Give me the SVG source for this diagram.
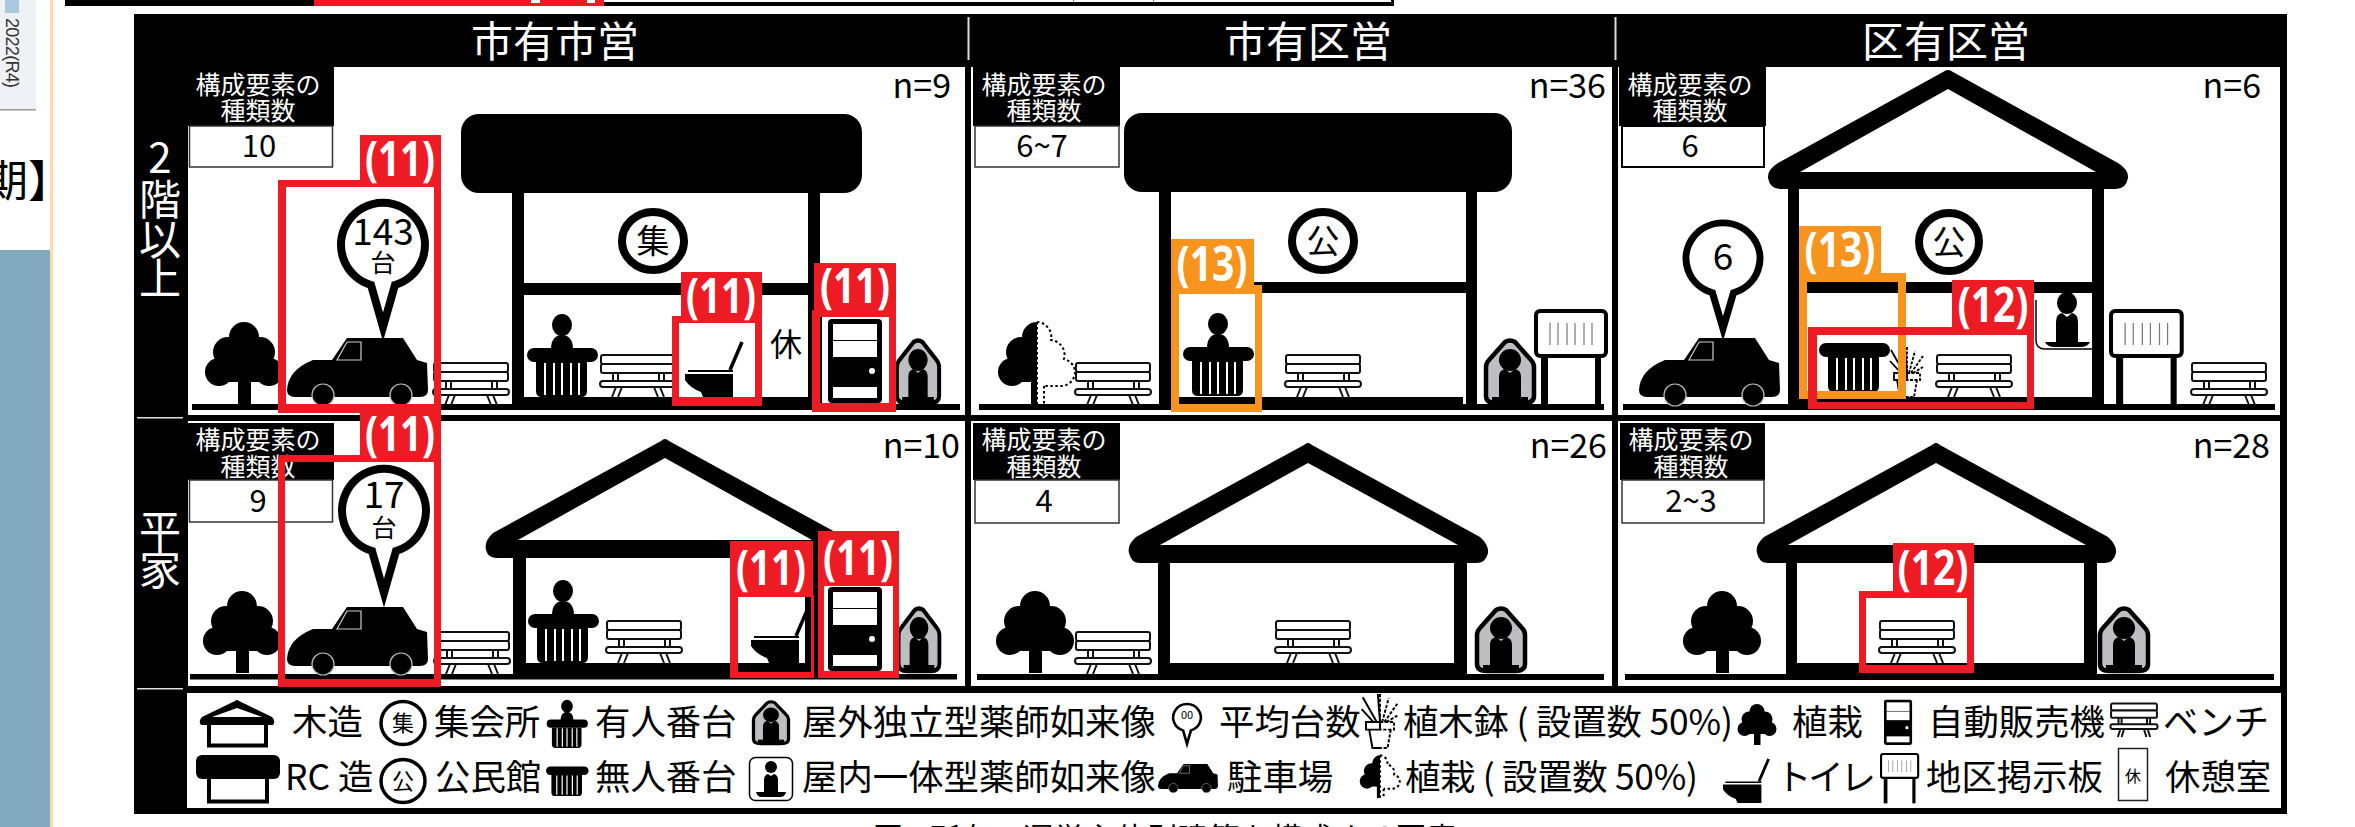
<svg xmlns="http://www.w3.org/2000/svg" width="2355" height="827" viewBox="0 0 2355 827">
<style>
text{font-family:"Noto Sans CJK JP","Noto Sans",sans-serif;fill:#000}
.w{fill:#fff}
.m{text-anchor:middle}
.e{text-anchor:end}
.t{font-size:42px;fill:#fff;text-anchor:middle}
.h{font-size:25px;fill:#fff;text-anchor:middle}
.v{font-size:31px;text-anchor:middle}
.n{font-size:34px;text-anchor:end}
.l{font-size:35.4px}
.b{font-size:37px;text-anchor:middle}
.tag{font-family:"Open Sans","Noto Sans",sans-serif;font-weight:700;font-size:48px;fill:#fff;text-anchor:middle}
.k{fill:#000}
.red{fill:#ed1c24;fill-rule:evenodd}
.or{fill:#f7941d;fill-rule:evenodd}
.box{fill:#fff;stroke:#333;stroke-width:1.5}
.ns{vector-effect:non-scaling-stroke}
</style>
<defs>
<g id="tree" class="k"><circle cx="0" cy="-67" r="15"/><circle cx="-16" cy="-52" r="15"/><circle cx="16" cy="-52" r="15"/><circle cx="-25" cy="-32" r="14"/><circle cx="25" cy="-32" r="14"/><rect x="-18" y="-60" width="36" height="38"/><rect x="-6" y="-30" width="13" height="30"/></g>
<clipPath id="lh"><rect x="-40" y="-90" width="40" height="90"/></clipPath>
<g id="halftree"><use href="#tree" clip-path="url(#lh)"/><path class="ns" d="M0,-82V0M7,-18V0M0,-82A15,15 0 0 1 14,-64A15,15 0 0 1 27,-45A14,14 0 0 1 38,-32A14,14 0 0 1 24,-18L7,-18" fill="none" stroke="#000" stroke-width="2" stroke-dasharray="2.5 2.5"/></g>
<g id="bench" fill="#fff" stroke="#111" stroke-width="2"><path class="ns" d="M-25,-24V-15M-20,-24V-15M21,-24V-15M26,-24V-15M-22,-10L-26,0M-16,-10L-20,0M16,-10L20,0M22,-10L26,0" fill="none"/><rect class="ns" x="-37" y="-42" width="74" height="9" rx="2"/><rect class="ns" x="-37" y="-33" width="74" height="9" rx="2"/><rect class="ns" x="-38" y="-16" width="76" height="6" rx="3"/></g>
<g id="car"><path class="k" d="M0,-7Q1,-27 26,-37L45,-37L60,-59L116,-59L130,-37L140,-34L141,-7Q141,0 133,0L8,0Q0,0 0,-7Z"/><path d="M50,-37L60,-55L74,-55L74,-37Z" fill="none" stroke="#ccc" stroke-width="1.2"/><circle cx="36" cy="-2" r="11" class="k" stroke="#bbb" stroke-width="1.2"/><circle cx="114" cy="-2" r="11" class="k" stroke="#bbb" stroke-width="1.2"/></g>
<path id="pin" d="M-12,-52A42,42 0 1 1 12,-52L0,-10Z" fill="#fff" stroke="#000" stroke-width="8" stroke-miterlimit="12"/>
<g id="counter"><rect class="k" x="-35" y="-49" width="71" height="14" rx="7"/><path class="k" d="M-26,-35H25V-6Q25,0 19,0H-20Q-26,0 -26,-6Z"/><path d="M-17,-34V-2M-8,-34V-2M0,-34V-2M9,-34V-2M17,-34V-2" stroke="#fff" stroke-width="2"/></g>
<g id="staffed"><use href="#counter"/><ellipse class="k" cx="0" cy="-72" rx="10" ry="11"/><path class="k" d="M-11,-48C-11,-58 -6,-62 0,-62C6,-62 11,-58 11,-48Z"/></g>
<g id="toilet"><path d="M57,-55L45,-27" stroke="#000" stroke-width="3.5" fill="none"/><path class="k" d="M3,-27H48V-25H3Z"/><path class="k" d="M0,-23H48V0H18L16,-5Q5,-9 0,-17Z"/></g>
<g id="door"><rect class="k" width="54" height="84" y="-84" rx="4"/><rect class="w" x="5" y="-79" width="44" height="33"/><rect class="k" x="5" y="-63" width="44" height="1"/><rect class="w" x="5" y="-16" width="44" height="11"/><circle class="w" cx="44" cy="-32" r="3"/></g>
<g id="statue"><path d="M-5,-63Q0,-66 5,-63L21,-45Q24,-42 24,-38L24,-9Q24,-2 14,-2L-14,-2Q-24,-2 -24,-9L-24,-38Q-24,-42 -21,-45Z" fill="#bcbec0" stroke="#000" stroke-width="4.5"/><circle class="k" cx="0" cy="-45" r="11"/><path class="k" d="M-11,-3V-28Q-11,-35 -5,-36L0,-32L5,-36Q11,-35 11,-28V-3Z"/><rect class="k" x="-18" y="-8" width="36" height="7"/></g>
<g id="sign"><rect x="7" y="47" width="7" height="48" class="k"/><rect x="61" y="47" width="6" height="48" class="k"/><rect x="2" y="2" width="70" height="45" rx="4" fill="#fff" stroke="#000" stroke-width="4"/><path d="M16,14V36M24,14V36M33,14V36M41,14V36M50,14V36M58,14V36" stroke="#777" stroke-width="1.2"/></g>
<g id="plant" fill="none" stroke="#000" stroke-width="1.8"><path d="M0,-24L-2,-50M-3,-24L-16,-47M-6,-24L-17,-36M-13,-24H0V-17H-13ZM-10,-17L-7,0H0"/><path stroke-dasharray="3 1.5" d="M0,-50V-24M2,-24L8,-46M4,-24L16,-41M6,-24L16,-30M0,-24H13V-17H0M10,-17L7,0H0"/></g>
</defs>

<g id="page-fragments">
<rect x="0" y="0" width="36" height="110" fill="#eef2f7"/>
<rect x="0" y="109" width="36" height="1.5" fill="#999"/>
<rect x="5" y="0" width="14" height="13" fill="#a9c8dc"/>
<text transform="translate(6,18) rotate(90)" textLength="70" style="font-family:'Liberation Sans',sans-serif;font-size:18px;fill:#333">2022(R4)</text>
<text x="-16" y="197" style="font-size:44px">期】</text>
<rect x="0" y="250" width="50" height="577" fill="#83a9c0"/>
<rect x="50" y="0" width="3" height="827" fill="#fcd9a8"/>
<rect x="65" y="0" width="249" height="6" class="k"/>
<rect x="314" y="0" width="290" height="6" fill="#ed1c24"/>
<rect x="531" y="0" width="9" height="3" class="w"/>
<rect x="587" y="0" width="8" height="3" class="w"/>
<rect x="604" y="2" width="790" height="4" class="k"/>
<rect x="1391" y="0" width="3" height="6" class="k"/>
<rect x="1073" y="0" width="1" height="2" fill="#777"/>
<rect x="1153" y="0" width="1" height="2" fill="#777"/>
<text x="873" y="849" textLength="584" style="font-size:30px">図9 所有・運営主体別建築を構成する要素</text>
</g>

<g id="frame">
<rect x="134" y="14" width="2153" height="800" class="k"/>
<rect x="188" y="67" width="777" height="348" class="w"/>
<rect x="971" y="67" width="641" height="348" class="w"/>
<rect x="1618" y="67" width="662" height="348" class="w"/>
<rect x="188" y="421" width="777" height="265" class="w"/>
<rect x="971" y="421" width="641" height="265" class="w"/>
<rect x="1618" y="421" width="662" height="265" class="w"/>
<rect x="187" y="693" width="2094" height="115" class="w"/>
<rect x="967.500" y="17" width="2" height="43" fill="#ddd"/>
<rect x="1614.500" y="17" width="2" height="43" fill="#ddd"/>
<rect x="137" y="417" width="46" height="1.500" fill="#ddd"/>
<rect x="137" y="688" width="46" height="1.500" fill="#ddd"/>
<text class="t" x="555" y="57">市有市営</text>
<text class="t" x="1308" y="57">市有区営</text>
<text class="t" x="1946" y="57">区有区営</text>
<g class="t">
<text class="t" x="160" y="173">2</text>
<text class="t" x="160" y="215">階</text>
<text class="t" x="160" y="255">以</text>
<text class="t" x="160" y="294">上</text>
<text class="t" x="160" y="546">平</text>
<text class="t" x="160" y="585">家</text>
</g>
</g>

<g id="panel-shiyu-shiei-2f">
<rect x="192" y="404" width="768" height="6" class="k"/>
<use href="#tree" x="244" y="404"/>
<use href="#bench" x="471" y="405"/>
<rect x="461" y="114" width="401" height="79" rx="18" class="k"/>
<rect x="512" y="193" width="12" height="217" class="k"/>
<rect x="808" y="193" width="12" height="217" class="k"/>
<rect x="524" y="283" width="284" height="12" class="k"/>
<rect x="512" y="397" width="308" height="13" class="k"/>
<ellipse cx="653" cy="241" rx="31" ry="29" fill="#fff" stroke="#000" stroke-width="8"/>
<text x="653" y="253" class="m" style="font-size:33px">集</text>
<use href="#staffed" x="562" y="397"/>
<use href="#bench" x="638" y="397"/>
<text x="786" y="356" class="m" style="font-size:32px">休</text>
<use href="#statue" transform="translate(918,405) scale(.88,1)"/>
<use href="#car" x="287" y="397"/>
<use href="#pin" x="383" y="337"/>
<text x="383" y="245" class="b">143</text>
<text x="383" y="272" class="m" style="font-size:25px">台</text>
<use href="#toilet" x="685" y="397"/>
<use href="#door" x="828" y="403"/>
<rect x="820" y="317" width="2" height="86" class="k"/>
<path class="red" d="M278,180H441V413H278ZM286,187V404H434V187Z"/><rect class="red" x="360" y="135" width="81" height="46"/>
<text class="tag" x="400" y="176" textLength="70" lengthAdjust="spacingAndGlyphs">(11)</text>
<path class="red" d="M672,316H762V406H672ZM679,323V397H755V323Z"/><rect class="red" x="681" y="272" width="81" height="45"/>
<text class="tag" x="721" y="313" textLength="70" lengthAdjust="spacingAndGlyphs">(11)</text>
<path class="red" d="M812,310H896V412H812ZM820,317V403H889V317Z"/><rect class="red" x="814" y="263" width="82" height="48"/>
<text class="tag" x="855" y="303" textLength="70" lengthAdjust="spacingAndGlyphs">(11)</text>
<rect x="188" y="67" width="146" height="59" class="k"/>
<rect x="189.500" y="126" width="143" height="41" class="box"/>
<text class="h" x="258" y="94">構成要素の</text>
<text class="h" x="258" y="120">種類数</text>
<text class="v" x="259" y="157">10</text>
<text class="n" x="951" y="98">n=9</text>
</g>

<g id="panel-shiyu-kuei-2f">
<rect x="979" y="404" width="625" height="6" class="k"/>
<use href="#halftree" x="1037" y="404"/>
<use href="#bench" x="1113" y="405"/>
<rect x="1124" y="113" width="388" height="79" rx="18" class="k"/>
<rect x="1159" y="192" width="12" height="218" class="k"/>
<rect x="1466" y="192" width="11" height="218" class="k"/>
<rect x="1171" y="282" width="295" height="11" class="k"/>
<rect x="1159" y="397" width="304" height="13" class="k"/>
<ellipse cx="1323" cy="241" rx="31" ry="29" fill="#fff" stroke="#000" stroke-width="8"/>
<text x="1323" y="253" class="m" style="font-size:33px">公</text>
<use href="#staffed" x="1218" y="396"/>
<use href="#bench" x="1323" y="397"/>
<use href="#statue" x="1510" y="405"/>
<use href="#sign" x="1534" y="309"/>
<path class="or" d="M1171,285H1262V412H1171ZM1179,294V404H1255V294Z"/><rect class="or" x="1171" y="239" width="83" height="47"/>
<text class="tag" x="1212" y="281" textLength="71" lengthAdjust="spacingAndGlyphs">(13)</text>
<rect x="973" y="67" width="147" height="59" class="k"/>
<rect x="975" y="126" width="144" height="41" class="box"/>
<text class="h" x="1044" y="94">構成要素の</text>
<text class="h" x="1044" y="120">種類数</text>
<text class="v" x="1042" y="157">6~7</text>
<text class="n" x="1606" y="98">n=36</text>
</g>

<g id="panel-kuyu-kuei-2f">
<rect x="1623" y="404" width="652" height="6" class="k"/>
<path class="k" fill-rule="evenodd" d="M1943,72Q1948,68 1953,72L2118,163Q2129,170 2128,178Q2126,189 2116,189L1780,189Q1770,189 1768,178Q1767,170 1778,163ZM1948,89L1800,172H2096Z"/>
<rect x="1788" y="189" width="11" height="221" class="k"/>
<rect x="2092" y="189" width="12" height="221" class="k"/>
<rect x="1799" y="282" width="293" height="11" class="k"/>
<rect x="1788" y="397" width="316" height="13" class="k"/>
<ellipse cx="1949" cy="242" rx="30" ry="29" fill="#fff" stroke="#000" stroke-width="8"/>
<text x="1949" y="254" class="m" style="font-size:33px">公</text>
<path d="M2036,300V340Q2036,349 2045,349H2092" fill="none" stroke="#000" stroke-width="1.500"/>
<ellipse class="k" cx="2067" cy="303" rx="10" ry="11"/>
<path class="k" d="M2056,342V322Q2056,314 2062,313L2067,317L2072,313Q2078,314 2078,322V342Z"/>
<path class="k" d="M2045,342H2090Q2088,347 2080,347H2055Q2047,347 2045,342Z"/>
<use href="#plant" x="1907" y="397"/>
<use href="#counter" x="1854" y="392"/>
<use href="#bench" x="1974" y="397"/>
<use href="#bench" x="2229" y="405"/>
<use href="#sign" transform="translate(2109,309) scale(1.01,1)"/>
<use href="#car" x="1639" y="397"/>
<use href="#pin" transform="translate(1723,337) scale(.88,.85)"/>
<text x="1723" y="270" class="b">6</text>
<path class="or" d="M1799,273H1906V399H1799ZM1807,282V391H1898V282Z"/><rect class="or" x="1799" y="226" width="82" height="48"/>
<text class="tag" x="1840" y="267" textLength="71" lengthAdjust="spacingAndGlyphs">(13)</text>
<path class="red" d="M1808,327H2034V409H1808ZM1817,335V402H2027V335Z"/><rect class="red" x="1952" y="280" width="82" height="48"/>
<text class="tag" x="1993" y="322" textLength="71" lengthAdjust="spacingAndGlyphs">(12)</text>
<rect x="1619" y="67" width="147" height="59" class="k"/>
<rect x="1622" y="126" width="142" height="41" class="box" style="stroke:#000;stroke-width:2"/>
<text class="h" x="1690" y="94">構成要素の</text>
<text class="h" x="1690" y="120">種類数</text>
<text class="v" x="1690" y="157">6</text>
<text class="n" x="2261" y="98">n=6</text>
</g>

<g id="panel-shiyu-shiei-1f">
<rect x="190" y="674" width="767" height="5.500" class="k"/>
<use href="#tree" x="242" y="673"/>
<use href="#bench" x="472" y="674"/>
<path class="k" fill-rule="evenodd" d="M661,441Q665,437 669,441L837,533Q846,541 844,550Q842,558 833,558L497,558Q488,558 486,550Q484,541 493,533ZM665,458L518,540H812Z"/>
<rect x="513" y="558" width="13" height="121" class="k"/>
<rect x="805" y="558" width="13" height="121" class="k"/>
<rect x="513" y="663" width="305" height="16" class="k"/>
<use href="#staffed" x="563" y="663"/>
<use href="#bench" x="644" y="663"/>
<use href="#statue" transform="translate(919,673) scale(.85,1)"/>
<use href="#car" x="287" y="666"/>
<use href="#pin" x="384" y="603"/>
<rect x="188" y="423" width="146" height="57" class="k"/>
<rect x="189.500" y="480" width="143" height="42" class="box"/>
<text class="h" x="258" y="449">構成要素の</text>
<text class="h" x="258" y="476">種類数</text>
<text class="v" x="258" y="512">9</text>
<text x="384" y="508" class="b">17</text>
<text x="384" y="537" class="m" style="font-size:25px">台</text>
<use href="#toilet" x="751" y="663"/>
<use href="#door" x="828" y="671"/>
<path class="red" d="M278,455H441V687H278ZM285,462V679H434V462Z"/><rect class="red" x="360" y="412" width="81" height="44"/>
<text class="tag" x="400" y="451" textLength="70" lengthAdjust="spacingAndGlyphs">(11)</text>
<path class="red" d="M730,595H814V678H730ZM738,597V672H811V597Z"/><rect class="red" x="730" y="541" width="83" height="56"/>
<text class="tag" x="771" y="585" textLength="70" lengthAdjust="spacingAndGlyphs">(11)</text>
<path class="red" d="M818,585H899V678H818ZM824,586V671H893V586Z"/><rect class="red" x="818" y="531" width="81" height="55"/>
<text class="tag" x="858" y="575" textLength="70" lengthAdjust="spacingAndGlyphs">(11)</text>
<text class="n" x="960" y="458">n=10</text>
</g>

<g id="panel-shiyu-kuei-1f">
<rect x="977" y="674" width="627" height="6" class="k"/>
<use href="#tree" x="1035" y="673"/>
<use href="#bench" x="1113" y="674"/>
<path class="k" fill-rule="evenodd" d="M1304,445Q1308,441 1312,445L1480,537Q1489,545 1488,553Q1486,563 1476,563L1140,563Q1131,563 1129,553Q1127,545 1136,537ZM1308,463L1160,545H1458Z"/>
<rect x="1158" y="563" width="12" height="117" class="k"/>
<rect x="1454" y="563" width="13" height="117" class="k"/>
<rect x="1158" y="663" width="309" height="17" class="k"/>
<use href="#bench" x="1313" y="663"/>
<use href="#statue" x="1501" y="673"/>
<rect x="973" y="423" width="147" height="57" class="k"/>
<rect x="975" y="480" width="144" height="43" class="box"/>
<text class="h" x="1044" y="449">構成要素の</text>
<text class="h" x="1044" y="476">種類数</text>
<text class="v" x="1044" y="512">4</text>
<text class="n" x="1607" y="458">n=26</text>
</g>

<g id="panel-kuyu-kuei-1f">
<rect x="1625" y="674" width="649" height="6" class="k"/>
<use href="#tree" x="1722" y="673"/>
<path class="k" fill-rule="evenodd" d="M1932,445Q1936,441 1940,445L2108,537Q2117,545 2116,553Q2114,563 2104,563L1768,563Q1759,563 1757,553Q1755,545 1764,537ZM1936,463L1788,545H2086Z"/>
<rect x="1786" y="563" width="11" height="117" class="k"/>
<rect x="2084" y="563" width="13" height="117" class="k"/>
<rect x="1786" y="663" width="311" height="17" class="k"/>
<use href="#bench" x="1917" y="663"/>
<use href="#statue" x="2124" y="673"/>
<path class="red" d="M1859,591H1974V673H1859ZM1866,598V665H1967V598Z"/><rect class="red" x="1893" y="543" width="81" height="49"/>
<text class="tag" x="1933" y="585" textLength="71" lengthAdjust="spacingAndGlyphs">(12)</text>
<rect x="1620" y="423" width="145" height="57" class="k"/>
<rect x="1622" y="480" width="142" height="43" class="box"/>
<text class="h" x="1691" y="449">構成要素の</text>
<text class="h" x="1691" y="476">種類数</text>
<text class="v" x="1691" y="512">2~3</text>
<text class="n" x="2270" y="458">n=28</text>
</g>

<g id="legend">
<g id="lg-wood">
<path class="k" fill-rule="evenodd" d="M235,701Q237,699 239,701L272,717Q276,721 273,725L201,725Q198,721 202,717ZM237,708L212,717H262Z"/>
<path d="M209,725V745.500H266V725" fill="none" stroke="#000" stroke-width="4"/>
<text class="l" x="292" y="735">木造</text>
</g>
<g id="lg-rc">
<rect class="k" x="196" y="755" width="84" height="24" rx="6"/>
<path d="M209,779V801.500H267V779" fill="none" stroke="#000" stroke-width="4"/>
<text class="l" x="285" y="790">RC 造</text>
</g>
<g id="lg-shukai"><ellipse cx="403" cy="723" rx="22" ry="21.500" fill="#fff" stroke="#000" stroke-width="3.500"/><text x="403" y="731" class="m" style="font-size:22px">集</text><text class="l" x="434" y="735">集会所</text></g>
<g id="lg-komin"><ellipse cx="403" cy="781" rx="22" ry="21.500" fill="#fff" stroke="#000" stroke-width="3.500"/><text x="403" y="789" class="m" style="font-size:22px">公</text><text class="l" x="435" y="790">公民館</text></g>
<g id="lg-staffed"><use href="#staffed" transform="translate(567,748) scale(.58)"/><text class="l" x="595" y="735">有人番台</text></g>
<g id="lg-unstaffed"><use href="#counter" transform="translate(567,796) scale(.6)"/><text class="l" x="595" y="790">無人番台</text></g>
<g id="lg-outdoor"><use href="#statue" transform="translate(771,745) scale(.73,.67)"/><text class="l" x="802" y="735">屋外独立型薬師如来像</text></g>
<g id="lg-indoor"><rect x="749.500" y="757.500" width="43" height="43" rx="6" fill="#fff" stroke="#000" stroke-width="1.500"/><circle class="k" cx="771" cy="767" r="6"/><path class="k" d="M764,792V780Q764,775 768,774L771,776L774,774Q778,775 778,780V792Z"/><path class="k" d="M756,792H786Q785,797 780,797H762Q757,797 756,792Z"/><text class="l" x="802" y="790">屋内一体型薬師如来像</text></g>
<g id="lg-pin"><use href="#pin" transform="translate(1187,747) scale(.33,.32)"/><text x="1187" y="719" class="m" style="font-size:11px">00</text><text class="l" x="1219" y="735">平均台数</text></g>
<g id="lg-car"><use href="#car" transform="translate(1158,789) scale(.425)"/><text class="l" x="1227" y="790">駐車場</text></g>
<g id="lg-plant"><use href="#plant" transform="translate(1380,748) scale(1.08)"/><text class="l" x="1403" y="735" textLength="330">植木鉢 ( 設置数 50%)</text></g>
<g id="lg-halftree"><use href="#halftree" transform="translate(1380,798) scale(.52)"/><text class="l" x="1405" y="790" textLength="293">植栽 ( 設置数 50%)</text></g>
<g id="lg-tree"><use href="#tree" transform="translate(1757,745) scale(.5)"/><text class="l" x="1792" y="735">植栽</text></g>
<g id="lg-toilet"><use href="#toilet" transform="translate(1723,803) scale(.8)"/><text class="l" x="1776" y="790" textLength="100">トイレ</text></g>
<g id="lg-vend"><use href="#door" transform="translate(1884,745) scale(.52,.54)"/><text class="l" x="1928" y="735">自動販売機</text></g>
<g id="lg-sign"><use href="#sign" transform="translate(1880,753) scale(.53)"/><text class="l" x="1926" y="790">地区掲示板</text></g>
<g id="lg-bench"><use href="#bench" transform="translate(2134,737) scale(.62,.8)"/><text class="l" x="2163" y="735">ベンチ</text></g>
<g id="lg-rest"><rect x="2118.500" y="748.500" width="29" height="52" fill="#fff" stroke="#222" stroke-width="1.500"/><text x="2133" y="782" class="m" style="font-size:16px">休</text><text class="l" x="2165" y="790">休憩室</text></g>
</g>
</svg>
